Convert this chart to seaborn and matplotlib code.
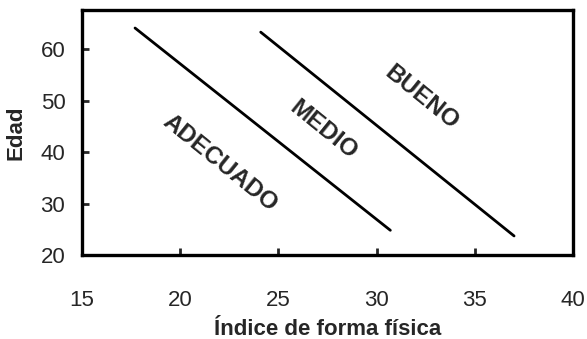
import pandas as pd
import matplotlib
matplotlib.use("Agg")
import matplotlib.pyplot as plt
import seaborn as sns

# boundary lines between fitness zones (start / end points)
linea = ["inferior", "inferior", "superior", "superior"]
indice = [17.7, 30.7, 24.1, 37.0]
edad = [64.1, 24.8, 63.3, 23.7]

# zone labels
zonas = ["ADECUADO", "MEDIO", "BUENO"]
zona_x = [22.0, 27.3, 32.3]
zona_y = [37.9, 44.3, 50.5]

df = pd.DataFrame({"linea": linea, "indice": indice, "edad": edad})

sns.set_style("white")
plt.rcParams["font.family"] = ["Liberation Sans", "DejaVu Sans"]

fig = plt.figure(figsize=(5.87, 3.39), dpi=100)
ax = fig.add_axes([82 / 587, 1 - 255 / 339, (573 - 82) / 587, (255 - 10) / 339])

sns.lineplot(data=df, x="indice", y="edad", units="linea", estimator=None,
             color="black", linewidth=2.0, ax=ax, legend=False)

for txt, x, y in zip(zonas, zona_x, zona_y):
    ax.text(x, y, txt, rotation=-39, ha="center", va="center",
            fontsize=17.5, fontweight="bold", rotation_mode="anchor")

ax.set_xlim(15, 40)
ax.set_ylim(20, 67.6)
ax.set_xticks([15, 20, 25, 30, 35, 40])
ax.set_yticks([20, 30, 40, 50, 60])
ax.tick_params(axis="x", direction="in", length=5, width=2, pad=25, labelsize=16)
ax.tick_params(axis="y", direction="in", length=5, width=2, pad=12, labelsize=16)
ax.tick_params(left=True, bottom=True)
for s in ax.spines.values():
    s.set_linewidth(2.4)
    s.set_color("black")

ax.set_xlabel("Índice de forma física", fontsize=16, fontweight="bold", labelpad=6)
ax.set_ylabel("Edad", fontsize=16, fontweight="bold", labelpad=10)

fig.savefig("out.png", dpi=100)
